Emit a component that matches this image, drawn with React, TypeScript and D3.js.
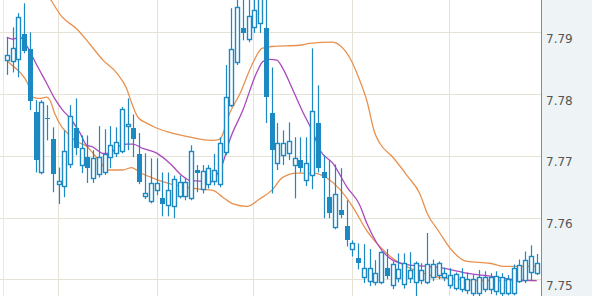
import React from 'react';
import * as d3 from 'd3';

const opens = [7.7853,7.7852,7.7855,7.7897,7.7873,7.7771,7.7672,7.7762,7.7728,7.7652,
 7.7649,7.7685,7.7745,7.7683,7.7698,7.7662,7.7669,7.7672,7.7696,7.7703,
 7.7706,7.7746,7.7745,7.7703,7.7634,7.7625,7.7643,7.7631,7.7618,7.7617,
 7.7634,7.7633,7.7630,7.7677,7.7644,7.7652,7.7657,7.7652,7.7704,7.7780,
 7.7850,7.7907,7.7887,7.7907,7.7913,7.7907,7.7769,7.7686,7.7699,7.7703,
 7.7683,7.7693,7.7660,7.7667,7.7753,7.7673,7.7634,7.7583,7.7612,7.7587,
 7.7547,7.7534,7.7502,7.7495,7.7494,7.7494,7.7518,7.7489,7.7500,7.7490,
 7.7500,7.7494,7.7497,7.7494,7.7502,7.7505,7.7502,7.7489,7.7485,7.7482,
 7.7481,7.7477,7.7476,7.7482,7.7482,7.7479,7.7477,7.7477,7.7477,7.7495,
 7.7497,7.7510,7.7508];
const highs = [7.7892,7.7908,7.7931,7.7947,7.7900,7.7790,7.7790,7.7782,7.7746,7.7681,
 7.7741,7.7782,7.7793,7.7733,7.7733,7.7709,7.7748,7.7743,7.7748,7.7746,
 7.7779,7.7793,7.7767,7.7737,7.7704,7.7696,7.7696,7.7673,7.7673,7.7668,
 7.7668,7.7664,7.7717,7.7685,7.7685,7.7685,7.7703,7.7730,7.7847,7.7939,
 7.7960,7.7957,7.7960,7.7960,7.7965,7.7960,7.7843,7.7753,7.7741,7.7754,
 7.7730,7.7730,7.7730,7.7874,7.7814,7.7701,7.7693,7.7686,7.7680,7.7628,
 7.7563,7.7558,7.7557,7.7549,7.7531,7.7545,7.7549,7.7529,7.7542,7.7542,
 7.7544,7.7529,7.7526,7.7575,7.7532,7.7529,7.7519,7.7518,7.7511,7.7518,
 7.7511,7.7507,7.7515,7.7513,7.7510,7.7513,7.7510,7.7507,7.7524,7.7532,
 7.7545,7.7555,7.7541];
const lows = [7.7831,7.7835,7.7827,7.7866,7.7774,7.7673,7.7670,7.7725,7.7641,7.7622,
 7.7633,7.7680,7.7701,7.7672,7.7656,7.7656,7.7665,7.7669,7.7680,7.7698,
 7.7704,7.7709,7.7698,7.7654,7.7630,7.7623,7.7636,7.7602,7.7602,7.7599,
 7.7631,7.7628,7.7628,7.7641,7.7639,7.7647,7.7652,7.7649,7.7701,7.7779,
 7.7847,7.7887,7.7884,7.7899,7.7899,7.7753,7.7639,7.7677,7.7685,7.7693,
 7.7631,7.7673,7.7651,7.7646,7.7673,7.7599,7.7599,7.7581,7.7599,7.7553,
 7.7537,7.7516,7.7494,7.7489,7.7490,7.7492,7.7500,7.7484,7.7495,7.7485,
 7.7494,7.7472,7.7492,7.7492,7.7497,7.7500,7.7497,7.7485,7.7482,7.7479,
 7.7476,7.7472,7.7472,7.7479,7.7476,7.7474,7.7472,7.7474,7.7474,7.7494,
 7.7494,7.7497,7.7507];
const closes = [7.7863,7.7874,7.7924,7.7869,7.7788,7.7694,7.7787,7.7759,7.7670,7.7660,
 7.7707,7.7764,7.7712,7.7712,7.7680,7.7696,7.7698,7.7703,7.7717,7.7722,
 7.7775,7.7751,7.7727,7.7657,7.7639,7.7656,7.7656,7.7622,7.7644,7.7662,
 7.7657,7.7657,7.7707,7.7672,7.7675,7.7680,7.7677,7.7720,7.7795,7.7873,
 7.7941,7.7899,7.7926,7.7936,7.7955,7.7795,7.7709,7.7720,7.7720,7.7724,
 7.7696,7.7680,7.7688,7.7772,7.7681,7.7664,7.7607,7.7638,7.7604,7.7563,
 7.7558,7.7526,7.7518,7.7518,7.7511,7.7544,7.7505,7.7524,7.7516,7.7526,
 7.7515,7.7526,7.7515,7.7524,7.7524,7.7526,7.7511,7.7507,7.7508,7.7503,
 7.7500,7.7500,7.7503,7.7503,7.7503,7.7505,7.7503,7.7500,7.7519,7.7523,
 7.7532,7.7537,7.7526];

// indicator lines, read at candle-index positions
const maIdx = [0,1,2.3,3.6,5.2,6.9,8.3,9.7,10.9,12.7,13.9,14.8,16.7,17.9,19.1,20.8,21.9,23.6,26.1,28.3,30.4,31.8,33.5,35.3,36.7,37.5,38.7,41,43.4,44.5,45.7,46.9,47.9,49.7,51.4,53.2,54.4,56.6,59.1,61.3,62.5,64.3,67,70,73,75.2,79.9,83.9,87.7,92];
const maVal = [7.7892,7.7889,7.7892,7.7876,7.7847,7.7818,7.7793,7.7774,7.7762,7.7737,7.7717,7.7715,7.7704,7.7704,7.7714,7.7719,7.7719,7.7712,7.7704,7.7688,7.7668,7.7660,7.7659,7.7657,7.7673,7.7688,7.7725,7.7774,7.7835,7.7853,7.7856,7.7855,7.7842,7.7806,7.7771,7.7737,7.7709,7.7688,7.7649,7.7620,7.7591,7.7558,7.7531,7.7523,7.7521,7.7519,7.7510,7.7505,7.7500,7.7498];
const upIdx = [0,7,9.6,12.2,14.4,16.7,19.1,20.8,21.7,22.8,24.3,26,28.3,30.4,33,35.8,37,38.7,40.5,42.7,44.3,46,50.9,52.6,56.6,57.8,59.6,61.3,62.5,63.9,64.8,67,69.5,71.7,73,75.2,77,79.9,83.9,86.2,92];
const upVal = [7.8049,7.7962,7.7925,7.7905,7.7881,7.7855,7.7834,7.7809,7.7785,7.7762,7.7753,7.7745,7.7738,7.7733,7.7728,7.7725,7.7727,7.7769,7.7801,7.7850,7.7874,7.7877,7.7879,7.7882,7.7884,7.7879,7.7858,7.7822,7.7790,7.7737,7.7720,7.7698,7.7668,7.7639,7.7607,7.7575,7.7550,7.7529,7.7526,7.7521,7.7521];
const loIdx = [0,0.5,2.3,3.6,4.5,5.7,6.9,7.5,8.3,9.6,10.4,11.8,13.9,16.2,17.5,20.1,21.7,23.1,25.4,27.8,29.5,33.5,35.8,37.5,39.3,41.7,43.9,46,47.9,50.4,53.2,55.6,57.8,60.1,62.5,64.8,67,70,74,78.2,83.9,92];
const loVal = [7.7855,7.7850,7.7835,7.7818,7.7795,7.7793,7.7795,7.7790,7.7769,7.7746,7.7738,7.7725,7.7715,7.7690,7.7677,7.7677,7.7681,7.7673,7.7664,7.7656,7.7652,7.7646,7.7644,7.7633,7.7622,7.7618,7.7630,7.7644,7.7665,7.7672,7.7672,7.7664,7.7646,7.7617,7.7579,7.7553,7.7534,7.7518,7.7505,7.7500,7.7498,7.7498];

const yTicks = [7.75, 7.76, 7.77, 7.78, 7.79];
const xGridIdx = [8.85, 26.05, 42.75, 59.9, 76.8];

const W = 592;
const H = 296;
const PLOT_R = 541;
const BLUE = '#1d89c2';
const ORANGE = '#e8914f';
const PURPLE = '#ab48be';

export default function App() {
  const n = closes.length;
  const x = d3.scaleLinear().domain([0, n - 1]).range([6.8, 536.6]);
  const y = d3.scaleLinear().domain([7.75, 7.79]).range([279.3, 32.3]);

  const line = d3.line<[number, number]>()
    .x(d => x(d[0]))
    .y(d => y(d[1]))
    .curve(d3.curveMonotoneX);

  const pts = (idx: number[], val: number[]) => idx.map((v, i) => [v, val[i]] as [number, number]);

  return (
    <svg width={W} height={H} style={{ position: 'absolute', left: 0, top: 0, display: 'block', background: '#fff' }}>
      <defs>
        <clipPath id="plot">
          <rect x={0} y={0} width={PLOT_R} height={H} />
        </clipPath>
      </defs>
      <rect x={PLOT_R} y={0} width={W - PLOT_R} height={H} fill="#eef3f6" />
      <g>
        {yTicks.map(t => (
          <line key={t} x1={0} x2={PLOT_R} y1={Math.round(y(t)) + 0.5} y2={Math.round(y(t)) + 0.5} stroke="#e6e2d6" strokeWidth={1} />
        ))}
        {xGridIdx.map(g => (
          <line key={g} x1={Math.round(x(g)) + 0.5} x2={Math.round(x(g)) + 0.5} y1={0} y2={H} stroke="#e6e2d6" strokeWidth={1} />
        ))}
        <line x1={3.5} x2={3.5} y1={0} y2={H} stroke="#e8e8e8" strokeWidth={1} />
      </g>
      <g clipPath="url(#plot)">
        <path d={line(pts(upIdx, upVal)) || ''} fill="none" stroke={ORANGE} strokeWidth={1.3} />
        <path d={line(pts(loIdx, loVal)) || ''} fill="none" stroke={ORANGE} strokeWidth={1.3} />
        <path d={line(pts(maIdx, maVal)) || ''} fill="none" stroke={PURPLE} strokeWidth={1.3} />
        {closes.map((c, i) => {
          const cx = Math.round(x(i));
          const o = opens[i];
          const up = c >= o;
          const top = Math.round(y(Math.max(o, c)));
          const bot = Math.round(y(Math.min(o, c)));
          const hgt = Math.max(bot - top, 1);
          return (
            <g key={i}>
              <line x1={cx + 0.5} x2={cx + 0.5} y1={y(highs[i])} y2={y(lows[i])} stroke={BLUE} strokeWidth={1.2} />
              {up ? (
                <rect x={cx - 1.5} y={top + 0.5} width={4} height={Math.max(hgt - 1, 1)} fill="#fff" stroke={BLUE} strokeWidth={1.4} />
              ) : (
                <rect x={cx - 2} y={top} width={5} height={hgt} fill={BLUE} />
              )}
            </g>
          );
        })}
      </g>
      <line x1={PLOT_R + 0.5} x2={PLOT_R + 0.5} y1={0} y2={H} stroke="#8a8a8a" strokeWidth={1} />
      {yTicks.map(t => (
        <text key={t} x={546} y={y(t) + 10.5} fontFamily="DejaVu Sans, Verdana, sans-serif" fontSize={12} fill="#555">
          {t.toFixed(2)}
        </text>
      ))}
    </svg>
  );
}
